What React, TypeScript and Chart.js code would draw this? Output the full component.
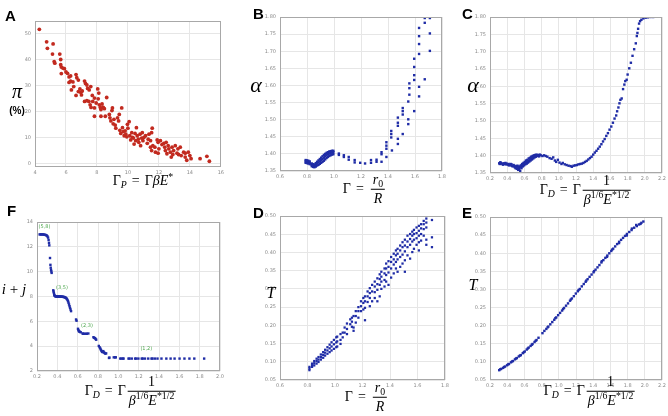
import React, { useEffect, useRef } from 'react';
import { Chart, registerables } from 'chart.js';
Chart.register(...registerables);

// ---------------- Panel A: Γ_P vs π (%) ----------------
const aTicksX = [4, 6, 8, 10, 12, 14, 16];
const aTicksY = [0, 10, 20, 30, 40, 50];
const aPoints: number[][] = [
  [4.28, 51.6], [4.75, 46.8], [4.8, 44.3], [5.17, 46], [5.13, 42.1], [5.24, 39.2], [5.28, 38.6], [5.6, 42.1], [5.66, 40], [5.66, 38],
  [5.7, 37.1], [5.8, 36.7], [5.9, 36.5], [5.7, 34.6], [6.0, 35.2], [6.1, 34.7], [6.2, 33.3], [6.3, 33.7], [6.3, 31.7], [6.2, 31.2],
  [6.45, 31.4], [6.35, 28.3], [6.5, 29.6], [6.65, 34.2], [6.7, 33], [6.8, 32.1], [6.8, 27.7], [6.9, 28.7], [6.95, 27.4], [7.0, 26.4],
  [6.65, 26.2], [7.05, 27.9], [7.2, 31.7], [7.26, 30.8], [7.35, 30.2], [7.4, 28.9], [7.5, 28.3], [7.6, 29.6], [7.7, 26.2], [7.2, 23.9],
  [7.35, 24.2], [7.48, 23.9], [7.56, 22.6], [7.62, 21.6], [7.73, 23.9], [7.84, 25.2], [7.84, 21.4], [7.95, 23.3], [8.05, 28.7], [8.12, 27.1],
  [8.08, 24.9], [8.15, 22.6], [8.22, 21.6], [8.26, 20.8], [8.33, 22.9], [8.41, 21.6], [8.48, 21.1], [8.54, 18.2], [7.84, 18.2], [8.26, 18.2],
  [8.63, 25.4], [8.8, 18.9], [8.84, 17.6], [8.9, 16.4], [8.97, 20.4], [9.0, 21.4], [9.05, 15.3], [9.1, 17], [9.18, 14.8], [9.22, 13.6],
  [9.33, 17.6], [9.4, 16.4], [9.44, 18.9], [9.48, 12.8], [9.54, 11.6], [9.6, 21.4], [9.65, 13.8], [9.7, 12.3], [9.76, 10.7], [9.82, 12.6],
  [9.86, 11.3], [9.93, 10.3], [9.97, 15.1], [10.0, 13.6], [10.08, 16.1], [10.12, 10.7], [10.18, 9.1], [10.25, 11.9], [10.3, 10.1], [10.35, 9.8],
  [10.4, 7.5], [10.46, 11.6], [10.5, 8.8], [10.55, 13.8], [10.6, 10.7], [10.67, 9.4], [10.7, 8.2], [10.78, 11.3], [10.82, 6.9], [10.89, 9.8],
  [10.93, 11.9], [10.97, 8.8], [11.04, 10.1], [11.14, 10.7], [11.25, 7.8], [11.31, 9.4], [11.36, 11.3], [11.46, 8.8], [11.53, 11.9], [11.57, 13.6],
  [11.46, 6.3], [11.53, 5], [11.61, 6.9], [11.74, 6.3], [11.78, 4.4], [11.89, 9.1], [11.95, 8.2], [12.0, 5.7], [11.95, 4], [12.1, 8.8],
  [12.2, 7.3], [12.32, 7.8], [12.38, 6.3], [12.42, 5], [12.47, 8.2], [12.52, 3.8], [12.6, 6.9], [12.64, 5.7], [12.74, 4.4], [12.8, 2.5],
  [12.85, 6.3], [12.9, 3.5], [12.95, 5], [13.06, 6.9], [13.17, 4], [13.23, 5.7], [13.27, 3.5], [13.38, 6.3], [13.44, 3.1], [13.6, 4.4],
  [13.7, 4], [13.8, 1.3], [13.9, 4.4], [14.0, 3.1], [14.08, 1.9], [14.66, 1.9], [15.1, 2.8], [15.26, 0.9], [13.7, 2.5],
];

// ---------------- Panel B: Γ vs α ----------------
const bTicksX = [0.6, 0.8, 1.0, 1.2, 1.4, 1.6, 1.8];
const alphaTicks = [1.35, 1.4, 1.45, 1.5, 1.55, 1.6, 1.65, 1.7, 1.75, 1.8];
const bClusterX = [0.79, 0.8, 0.81, 0.82, 0.835, 0.845, 0.855, 0.865, 0.875, 0.885, 0.895, 0.905, 0.915, 0.925, 0.935, 0.945, 0.955, 0.965, 0.975, 0.985, 0.995];
const bClusterY: number[][] = [
  [1.374, 1.378, 1.382], [1.373, 1.377, 1.381], [1.372, 1.376, 1.38], [1.37, 1.374, 1.378], [1.364, 1.368, 1.372],
  [1.362, 1.366, 1.37], [1.361, 1.365, 1.369], [1.363, 1.368, 1.373], [1.366, 1.372, 1.377], [1.368, 1.375, 1.381],
  [1.371, 1.378, 1.385], [1.374, 1.382, 1.389], [1.377, 1.385, 1.393], [1.38, 1.389, 1.397], [1.384, 1.393, 1.4],
  [1.388, 1.396, 1.403], [1.391, 1.399, 1.405], [1.394, 1.401, 1.407], [1.396, 1.403, 1.408], [1.398, 1.404, 1.409],
  [1.399, 1.405, 1.409],
];
const bSparse: number[][] = [
  [1.036, 1.401], [1.036, 1.397], [1.073, 1.396], [1.073, 1.391], [1.109, 1.391], [1.109, 1.383], [1.153, 1.382], [1.153, 1.375],
  [1.194, 1.374], [1.23, 1.372], [1.274, 1.374], [1.274, 1.382], [1.315, 1.377], [1.315, 1.383], [1.352, 1.405], [1.352, 1.399],
  [1.352, 1.377], [1.388, 1.434], [1.388, 1.424], [1.388, 1.415], [1.388, 1.391], [1.424, 1.467], [1.424, 1.458], [1.424, 1.448],
  [1.429, 1.41], [1.473, 1.506], [1.473, 1.491], [1.473, 1.482], [1.473, 1.444], [1.473, 1.429], [1.509, 1.534], [1.509, 1.525],
  [1.509, 1.515], [1.509, 1.458], [1.55, 1.553], [1.55, 1.501], [1.55, 1.487], [1.558, 1.606], [1.558, 1.592], [1.558, 1.573],
  [1.594, 1.678], [1.594, 1.654], [1.594, 1.63], [1.594, 1.616], [1.594, 1.525], [1.63, 1.768], [1.63, 1.744], [1.63, 1.721],
  [1.63, 1.692], [1.63, 1.596], [1.63, 1.568], [1.672, 1.797], [1.672, 1.783], [1.672, 1.618], [1.71, 1.797], [1.71, 1.752], [1.71, 1.701],
];

// ---------------- Panel C: Γ_D vs α ----------------
const gdTicks = [0.2, 0.4, 0.6, 0.8, 1.0, 1.2, 1.4, 1.6, 1.8, 2.0, 2.2];
const cPoints: number[][] = [
  [0.307, 1.378], [0.314, 1.376], [0.326, 1.379], [0.337, 1.377], [0.349, 1.376], [0.36, 1.378], [0.371, 1.376], [0.383, 1.375],
  [0.394, 1.377], [0.406, 1.374], [0.417, 1.376], [0.429, 1.373], [0.44, 1.376], [0.451, 1.371], [0.463, 1.369], [0.474, 1.373],
  [0.486, 1.367], [0.497, 1.364], [0.505, 1.37], [0.512, 1.362], [0.52, 1.368], [0.528, 1.359], [0.535, 1.365], [0.543, 1.369],
  [0.551, 1.356], [0.558, 1.372], [0.566, 1.364], [0.573, 1.376], [0.581, 1.369], [0.589, 1.379], [0.596, 1.372], [0.604, 1.382],
  [0.611, 1.375], [0.619, 1.386], [0.627, 1.377], [0.634, 1.388], [0.642, 1.38], [0.65, 1.392], [0.657, 1.383], [0.665, 1.394],
  [0.672, 1.386], [0.68, 1.397], [0.688, 1.389], [0.695, 1.399], [0.703, 1.392], [0.71, 1.401], [0.718, 1.395], [0.726, 1.402],
  [0.733, 1.397], [0.741, 1.403], [0.752, 1.399], [0.764, 1.402], [0.771, 1.398], [0.79, 1.401], [0.81, 1.399], [0.829, 1.401],
  [0.848, 1.399], [0.867, 1.397], [0.893, 1.393], [0.916, 1.391], [0.935, 1.395], [0.954, 1.386], [0.97, 1.382], [0.989, 1.388],
  [1.008, 1.38], [1.031, 1.376], [1.046, 1.379], [1.069, 1.375], [1.091, 1.373], [1.114, 1.371], [1.137, 1.37], [1.152, 1.368],
  [1.171, 1.371], [1.19, 1.372], [1.21, 1.373], [1.229, 1.375], [1.248, 1.376], [1.267, 1.377], [1.286, 1.379], [1.305, 1.382],
  [1.324, 1.385], [1.343, 1.389], [1.362, 1.393], [1.381, 1.397], [1.4, 1.403], [1.419, 1.409], [1.438, 1.414], [1.457, 1.42],
  [1.476, 1.426], [1.495, 1.433], [1.514, 1.441], [1.533, 1.448], [1.552, 1.457], [1.571, 1.465], [1.59, 1.475], [1.61, 1.484],
  [1.629, 1.495], [1.648, 1.507], [1.667, 1.516], [1.678, 1.528], [1.693, 1.539], [1.705, 1.551], [1.716, 1.561], [1.731, 1.565],
  [1.747, 1.592], [1.762, 1.605], [1.773, 1.615], [1.789, 1.619], [1.8, 1.634], [1.819, 1.652], [1.838, 1.668], [1.857, 1.688],
  [1.876, 1.707], [1.895, 1.724], [1.907, 1.745], [1.914, 1.754], [1.922, 1.766], [1.933, 1.781], [1.945, 1.788], [1.96, 1.792],
  [1.983, 1.796], [2.01, 1.798], [2.036, 1.799], [2.067, 1.8], [2.097, 1.8],
  [0.32, 1.381], [0.35, 1.374], [0.38, 1.379], [0.42, 1.372], [0.45, 1.375], [0.48, 1.371], [0.5, 1.366], [0.52, 1.371],
  [0.54, 1.361], [0.56, 1.367], [0.58, 1.373], [0.6, 1.377], [0.62, 1.381], [0.64, 1.384], [0.66, 1.388], [0.68, 1.392],
  [0.7, 1.395], [0.72, 1.398], [0.74, 1.4], [0.76, 1.4], [0.78, 1.403],
];

// ---------------- Panel F: Γ_D vs i + j ----------------
const fTicksX = [0.2, 0.4, 0.6, 0.8, 1.0, 1.2, 1.4, 1.6, 1.8, 2.0];
const fTicksY = [2, 4, 6, 8, 10, 12, 14];
const fPoints: number[][] = [
  [0.226, 13.0], [0.234, 13.0], [0.242, 13.0], [0.25, 13.0], [0.258, 13.0], [0.266, 12.98], [0.274, 12.98], [0.282, 12.96],
  [0.29, 12.94], [0.297, 12.9], [0.303, 12.84], [0.309, 12.74], [0.314, 12.55], [0.318, 12.32], [0.321, 12.12], [0.328, 11.1],
  [0.332, 10.55], [0.335, 10.32], [0.338, 10.15], [0.341, 10.02], [0.344, 9.9],
  [0.36, 8.5], [0.363, 8.4], [0.366, 8.28], [0.369, 8.15], [0.372, 8.08], [0.376, 8.05], [0.38, 8.02], [0.386, 8.0], [0.392, 8.0],
  [0.398, 8.0], [0.404, 8.0], [0.41, 8.0], [0.416, 8.0], [0.422, 8.0], [0.428, 8.0], [0.434, 7.99], [0.44, 7.99], [0.446, 7.98],
  [0.452, 7.98], [0.458, 7.97], [0.464, 7.96], [0.47, 7.95], [0.476, 7.93], [0.482, 7.9], [0.488, 7.86], [0.494, 7.8], [0.5, 7.72],
  [0.505, 7.62], [0.51, 7.5], [0.515, 7.36], [0.52, 7.22], [0.525, 7.08], [0.53, 6.95], [0.535, 6.82],
  [0.584, 6.15], [0.589, 6.05],
  [0.603, 5.4], [0.607, 5.3], [0.611, 5.22], [0.616, 5.18], [0.622, 5.15], [0.63, 5.12], [0.648, 5.02], [0.655, 5.0], [0.665, 5.0],
  [0.68, 5.0], [0.69, 5.0], [0.705, 5.02],
  [0.755, 4.72], [0.762, 4.68], [0.77, 4.64], [0.776, 4.58], [0.782, 4.52],
  [0.808, 4.02], [0.815, 3.92], [0.822, 3.82], [0.828, 3.72], [0.834, 3.62], [0.84, 3.55], [0.846, 3.52], [0.852, 3.6], [0.858, 3.5],
  [0.865, 3.45], [0.872, 3.4], [0.88, 3.42],
  [0.908, 3.05], [0.912, 3.08], [0.955, 3.1], [0.968, 3.1], [0.975, 3.1],
  [1.019, 3.0], [1.03, 3.0], [1.045, 3.0], [1.051, 3.0], [1.1, 3.0], [1.11, 3.0], [1.132, 3.0], [1.165, 3.0], [1.175, 3.0], [1.197, 3.0],
  [1.23, 3.0], [1.24, 3.0], [1.262, 3.0], [1.294, 3.0], [1.326, 3.0], [1.336, 3.0], [1.359, 3.0], [1.385, 3.0], [1.424, 3.0],
  [1.472, 3.0], [1.514, 3.0], [1.553, 3.0], [1.602, 3.0], [1.65, 3.0], [1.699, 3.0], [1.747, 3.0], [1.844, 3.0],
];
const fLabelText = ['(5,8)', '(3,5)', '(2,3)', '(1,2)'];
const fLabelX = [0.274, 0.446, 0.692, 1.275];
const fLabelY = [13.6, 8.68, 5.63, 3.83];

// ---------------- Panel D: Γ vs T ----------------
const tTicks = [0.05, 0.1, 0.15, 0.2, 0.25, 0.3, 0.35, 0.4, 0.45, 0.5];
const dColX = [
  0.814, 0.833, 0.849, 0.866, 0.88, 0.897, 0.914, 0.928, 0.945, 0.961, 0.975, 0.992, 1.009, 1.016,
  1.04, 1.056, 1.07, 1.087, 1.111, 1.123, 1.135, 1.151, 1.17, 1.189, 1.206, 1.218, 1.237, 1.253, 1.27, 1.289,
  1.308, 1.325, 1.337, 1.36, 1.372, 1.389, 1.408, 1.427, 1.443, 1.455, 1.474, 1.491, 1.508, 1.527, 1.546,
  1.562, 1.574, 1.593, 1.61, 1.626, 1.645, 1.664, 1.705,
];
const dColY: number[][] = [
  [0.077, 0.0815, 0.086], [0.086, 0.0905, 0.095], [0.09, 0.096, 0.102], [0.095, 0.102, 0.1085], [0.0995, 0.106, 0.113],
  [0.106, 0.113, 0.12], [0.111, 0.119, 0.1265], [0.117, 0.125, 0.133], [0.122, 0.131, 0.14], [0.1265, 0.137, 0.147],
  [0.131, 0.142, 0.1535], [0.1355, 0.148, 0.16], [0.14, 0.153, 0.167], [0.142, 0.156, 0.169],
  [0.176, 0.16, 0.149], [0.18, 0.167], [0.194, 0.18], [0.205, 0.19, 0.176], [0.2165, 0.203], [0.221, 0.21, 0.196],
  [0.2255, 0.194, 0.185], [0.239, 0.2255, 0.2075], [0.25, 0.239, 0.221], [0.266, 0.2525, 0.239], [0.275, 0.2615, 0.2435],
  [0.2795, 0.266, 0.248, 0.214], [0.293, 0.2795, 0.264], [0.302, 0.2885, 0.275, 0.2525], [0.311, 0.293, 0.266],
  [0.32, 0.3065, 0.291, 0.275], [0.329, 0.313, 0.2975, 0.266], [0.34, 0.327, 0.311, 0.2795], [0.347, 0.3335, 0.32, 0.3],
  [0.356, 0.3425, 0.3245, 0.3065], [0.3695, 0.356, 0.338, 0.32], [0.376, 0.3605, 0.345, 0.311], [0.3875, 0.374, 0.356, 0.331],
  [0.3965, 0.381, 0.3668, 0.3425], [0.4055, 0.392, 0.374, 0.356], [0.41, 0.3965, 0.381, 0.347], [0.419, 0.4055, 0.3875, 0.3605],
  [0.428, 0.4145, 0.394, 0.3695], [0.435, 0.419, 0.403, 0.3785, 0.347], [0.446, 0.43, 0.4145, 0.392], [0.4505, 0.437, 0.421, 0.383],
  [0.457, 0.446, 0.43, 0.401], [0.462, 0.4505, 0.435, 0.41], [0.4685, 0.453, 0.439, 0.421], [0.473, 0.4595, 0.446, 0.428, 0.4055],
  [0.4775, 0.466, 0.4505, 0.4325], [0.4865, 0.4775, 0.464, 0.446], [0.493, 0.482, 0.4685, 0.435, 0.421], [0.489, 0.4415, 0.4145],
];

// ---------------- Panel E: Γ_D vs T ----------------
const ePoints: number[][] = [
  [0.307, 0.0771], [0.33, 0.0807], [0.352, 0.0834], [0.375, 0.0871], [0.398, 0.0907], [0.421, 0.0943], [0.444, 0.0988], [0.467, 0.1024],
  [0.49, 0.107], [0.512, 0.1106], [0.535, 0.1151], [0.558, 0.1187], [0.581, 0.1241], [0.604, 0.1287], [0.627, 0.1341], [0.65, 0.1395],
  [0.672, 0.144], [0.695, 0.1494], [0.718, 0.1549], [0.741, 0.1603], [0.764, 0.1666], [0.81, 0.1793], [0.832, 0.1856], [0.855, 0.191],
  [0.878, 0.1974], [0.901, 0.2037], [0.924, 0.21], [0.947, 0.2163], [0.97, 0.2227], [0.992, 0.229], [1.015, 0.2353], [1.038, 0.2417],
  [1.061, 0.2489], [1.084, 0.2552], [1.107, 0.2615], [1.13, 0.2688], [1.152, 0.2751], [1.175, 0.2814], [1.198, 0.2887], [1.221, 0.295],
  [1.244, 0.3013], [1.267, 0.3085], [1.29, 0.3149], [1.312, 0.3212], [1.335, 0.3284], [1.358, 0.3348], [1.381, 0.3411], [1.404, 0.3474],
  [1.427, 0.3546], [1.45, 0.361], [1.472, 0.3673], [1.495, 0.3745], [1.518, 0.3809], [1.541, 0.3872], [1.564, 0.3935], [1.587, 0.3998],
  [1.61, 0.4062], [1.632, 0.4125], [1.655, 0.4188], [1.678, 0.4252], [1.701, 0.4315], [1.724, 0.4369], [1.747, 0.4423], [1.77, 0.4478],
  [1.792, 0.4532], [1.819, 0.4586], [1.846, 0.464], [1.876, 0.4704], [1.907, 0.4749], [1.933, 0.4794], [1.96, 0.4839], [1.983, 0.4875],
  [0.318, 0.0795], [0.364, 0.0858], [0.41, 0.0931], [0.456, 0.1012], [0.502, 0.1093], [0.548, 0.1174], [0.594, 0.1268], [0.64, 0.1372],
  [0.686, 0.1475], [0.73, 0.1581], [0.87, 0.1955], [0.96, 0.2208], [1.05, 0.2458], [1.14, 0.2722], [1.23, 0.2985], [1.32, 0.3245],
  [1.41, 0.3505], [1.5, 0.378], [1.56, 0.39], [1.62, 0.41], [1.7, 0.428], [1.79, 0.449], [1.85, 0.468], [1.9, 0.478], [1.95, 0.481],
];

const RED = '#c22a1f';
const BLUE = '#1f2ca6';

function toXY(pairs: number[][]) {
  return pairs.map(([x, y]) => ({ x, y }));
}
function colsToXY(xs: number[], ys: number[][]) {
  const out: { x: number; y: number }[] = [];
  xs.forEach((x, i) => ys[i].forEach((y) => out.push({ x, y })));
  return out;
}

type Spec = {
  left: number; top: number; width: number; height: number;
  xMin: number; xMax: number; yMin: number; yMax: number;
  xTicks: number[]; yTicks: number[]; xDec: number; yDec: number;
  points: { x: number; y: number }[]; color: string; style: string; radius: number;
  labels?: { text: string[]; x: number[]; y: number[] };
};

const PANELS: Spec[] = [
  { left: 35, top: 18, width: 188, height: 149, xMin: 4, xMax: 16, yMin: -1.3, yMax: 54.8, xTicks: aTicksX, yTicks: aTicksY, xDec: 0, yDec: 0, points: toXY(aPoints), color: RED, style: 'circle', radius: 1.9 },
  { left: 280, top: 14, width: 165, height: 157, xMin: 0.6, xMax: 1.8, yMin: 1.35, yMax: 1.8, xTicks: bTicksX, yTicks: alphaTicks, xDec: 1, yDec: 2, points: [...colsToXY(bClusterX, bClusterY), ...toXY(bSparse)], color: BLUE, style: 'rect', radius: 1.7 },
  { left: 490, top: 14, width: 175, height: 159, xMin: 0.2, xMax: 2.2, yMin: 1.35, yMax: 1.8, xTicks: gdTicks, yTicks: alphaTicks, xDec: 1, yDec: 2, points: toXY(cPoints), color: BLUE, style: 'rect', radius: 1.7 },
  { left: 37, top: 219, width: 186, height: 152, xMin: 0.2, xMax: 2.0, yMin: 2, yMax: 14, xTicks: fTicksX, yTicks: fTicksY, xDec: 1, yDec: 0, points: toXY(fPoints), color: BLUE, style: 'rect', radius: 1.7, labels: { text: fLabelText, x: fLabelX, y: fLabelY } },
  { left: 280, top: 213, width: 168, height: 167, xMin: 0.6, xMax: 1.8, yMin: 0.05, yMax: 0.5, xTicks: bTicksX, yTicks: tTicks, xDec: 1, yDec: 2, points: colsToXY(dColX, dColY), color: BLUE, style: 'rect', radius: 1.6 },
  { left: 490, top: 214, width: 175, height: 166, xMin: 0.2, xMax: 2.2, yMin: 0.05, yMax: 0.5, xTicks: gdTicks, yTicks: tTicks, xDec: 1, yDec: 2, points: toXY(ePoints), color: BLUE, style: 'rect', radius: 1.7 },
];

const PAD_L = 22, PAD_T = 4, PAD_R = 4, PAD_B = 10;

const framePlugin = {
  id: 'frameAndLabels',
  afterDraw(chart: any, _args: any, opts: any) {
    const { ctx, chartArea } = chart;
    const { left, top, right, bottom } = chartArea;
    ctx.save();
    ctx.strokeStyle = '#a8a8a8';
    ctx.lineWidth = 1;
    ctx.strokeRect(Math.round(left) + 0.5, Math.round(top) + 0.5, Math.round(right - left) - 1, Math.round(bottom - top) - 1);
    if (opts && opts.text) {
      ctx.fillStyle = '#4fa84f';
      ctx.font = '5px "DejaVu Sans", sans-serif';
      ctx.textAlign = 'center';
      ctx.textBaseline = 'middle';
      opts.text.forEach((t: string, i: number) => {
        ctx.fillText(t, chart.scales.x.getPixelForValue(opts.x[i]), chart.scales.y.getPixelForValue(opts.y[i]));
      });
    }
    ctx.restore();
  },
};

function Panel({ spec }: { spec: Spec }) {
  const ref = useRef<HTMLCanvasElement>(null);
  useEffect(() => {
    if (!ref.current) return;
    const tickFont = { size: 5, family: '"DejaVu Sans", sans-serif' };
    const chart = new Chart(ref.current, {
      type: 'scatter',
      data: {
        datasets: [{
          data: spec.points,
          backgroundColor: spec.color,
          borderColor: spec.color,
          borderWidth: 0,
          pointRadius: spec.radius,
          pointStyle: spec.style as any,
        }],
      },
      options: {
        animation: false,
        responsive: false,
        events: [],
        layout: { padding: { top: PAD_T, right: PAD_R, left: 0, bottom: 0 } },
        plugins: { legend: { display: false }, tooltip: { enabled: false }, frameAndLabels: spec.labels || {} } as any,
        scales: {
          x: {
            type: 'linear', min: spec.xMin, max: spec.xMax,
            afterBuildTicks: (s: any) => { s.ticks = spec.xTicks.map((v) => ({ value: v })); },
            afterFit: (s: any) => { s.height = PAD_B; },
            grid: { color: '#e6e6e6', drawTicks: false, lineWidth: 1 },
            border: { display: false },
            ticks: { font: tickFont, color: '#8a8a8a', padding: 3, maxRotation: 0, autoSkip: false, callback: (v: any) => Number(v).toFixed(spec.xDec) },
          },
          y: {
            type: 'linear', min: spec.yMin, max: spec.yMax,
            afterBuildTicks: (s: any) => { s.ticks = spec.yTicks.map((v) => ({ value: v })); },
            afterFit: (s: any) => { s.width = PAD_L; },
            grid: { color: '#e6e6e6', drawTicks: false, lineWidth: 1 },
            border: { display: false },
            ticks: { font: tickFont, color: '#8a8a8a', padding: 4, autoSkip: false, callback: (v: any) => Number(v).toFixed(spec.yDec) },
          },
        },
      } as any,
      plugins: [framePlugin as any],
    });
    return () => chart.destroy();
  }, [spec]);
  const w = spec.width + PAD_L + PAD_R;
  const h = spec.height + PAD_T + PAD_B;
  return (
    <canvas ref={ref} width={w} height={h}
      style={{ position: 'absolute', left: spec.left - PAD_L, top: spec.top - PAD_T, width: w, height: h }} />
  );
}

const serif = '"Liberation Serif","Times New Roman",serif';
const sans = '"Liberation Sans",Arial,sans-serif';
const subS: React.CSSProperties = { fontSize: '0.7em', verticalAlign: '-0.3em', lineHeight: 0 };
const supS: React.CSSProperties = { fontSize: '0.7em', verticalAlign: '0.55em', lineHeight: 0 };
const eqS: React.CSSProperties = { margin: '0 5px' };

function At({ x, y, size, children, style }: { x: number; y: number; size: number; children: React.ReactNode; style?: React.CSSProperties }) {
  return (
    <div style={{ position: 'absolute', left: x, top: y, transform: 'translate(-50%,-50%)', whiteSpace: 'nowrap', fontFamily: serif, fontSize: size, lineHeight: 1, color: '#000', ...style }}>
      {children}
    </div>
  );
}

function Frac({ num, den }: { num: React.ReactNode; den: React.ReactNode }) {
  return (
    <span style={{ display: 'inline-flex', flexDirection: 'column', alignItems: 'center', verticalAlign: 'middle', margin: '0 2px' }}>
      <span style={{ borderBottom: '1px solid #000', padding: '0 2px 1px', lineHeight: 1.05, alignSelf: 'stretch', textAlign: 'center' }}>{num}</span>
      <span style={{ lineHeight: 1.2, padding: '1px 1px 0' }}>{den}</span>
    </span>
  );
}

const GammaD = () => (
  <span>
    Γ<span style={subS}><i>D</i></span><span style={eqS}>=</span>Γ
    <Frac num={<span>1</span>} den={<span><i>β</i><span style={supS}>1/6</span><i>E</i><span style={supS}>*1/2</span></span>} />
  </span>
);
const GammaR = () => (
  <span>
    Γ<span style={eqS}>=</span>
    <Frac num={<span><i>r</i><span style={subS}>0</span></span>} den={<i>R</i>} />
  </span>
);

function Letter({ x, y, t }: { x: number; y: number; t: string }) {
  return <div style={{ position: 'absolute', left: x, top: y, fontFamily: sans, fontWeight: 'bold', fontSize: 15, lineHeight: '15px' }}>{t}</div>;
}

export default function App() {
  return (
    <div style={{ position: 'absolute', left: 0, top: 0, width: 668, height: 416, background: '#fff', overflow: 'hidden' }}>
      {PANELS.map((p, i) => <Panel key={i} spec={p} />)}
      <Letter x={5} y={8} t="A" />
      <Letter x={253} y={6} t="B" />
      <Letter x={462} y={6} t="C" />
      <Letter x={7} y={203} t="F" />
      <Letter x={253} y={205} t="D" />
      <Letter x={462} y={205} t="E" />

      <At x={17} y={91} size={20}><i>π</i></At>
      <At x={17} y={111} size={10} style={{ fontFamily: sans, fontWeight: 'bold' }}>(%)</At>
      <At x={256} y={85} size={22}><i>α</i></At>
      <At x={473} y={85} size={22}><i>α</i></At>
      <At x={14} y={289} size={15}><i>i</i> + <i>j</i></At>
      <At x={271} y={293} size={16}><i>T</i></At>
      <At x={473} y={285} size={16}><i>T</i></At>

      <At x={143} y={181} size={14}>Γ<span style={subS}><i>P</i></span><span style={eqS}>=</span>Γ<i>β</i><i>E</i><span style={supS}>*</span></At>
      <At x={365} y={190} size={14}><GammaR /></At>
      <At x={586} y={191} size={14}><GammaD /></At>
      <At x={131} y={392} size={14}><GammaD /></At>
      <At x={367} y={398} size={14}><GammaR /></At>
      <At x={590} y={392} size={14}><GammaD /></At>
    </div>
  );
}
